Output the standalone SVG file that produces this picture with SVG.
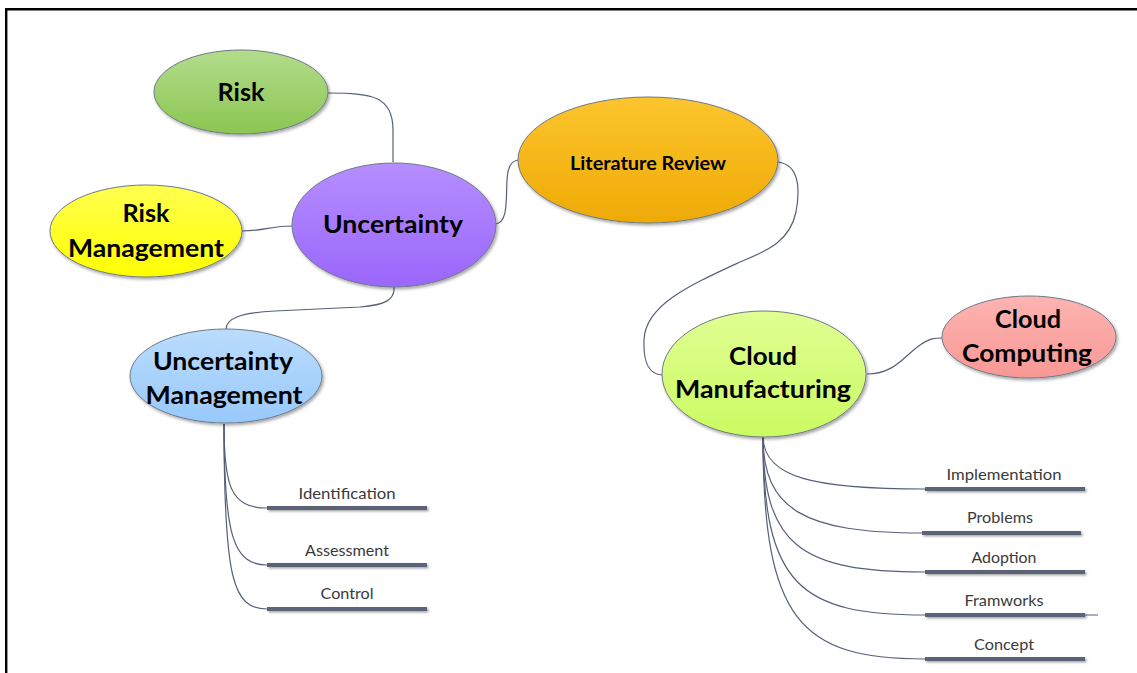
<svg xmlns="http://www.w3.org/2000/svg" width="1137" height="673" viewBox="0 0 1137 673">
<defs>
<style>
.node ellipse{stroke:#6d7a8a;stroke-width:1;filter:url(#sh)}
.lbl{font-family:Lato,"Liberation Sans",sans-serif;font-weight:bold;fill:#000;text-anchor:middle}
.leaf{font-family:Lato,"Liberation Sans",sans-serif;font-size:15px;fill:#3a3a3a;text-anchor:middle}
.conn path{fill:none;stroke:#566078;stroke-width:1.2}
.bar{fill:#5a6477;filter:url(#bsh)}
.frame{stroke:#000;stroke-width:2.4;fill:none}
</style>
<filter id="sh" x="-10%" y="-10%" width="125%" height="130%">
<feDropShadow dx="1.5" dy="2" stdDeviation="1.5" flood-color="#000" flood-opacity="0.35"/>
</filter>
<filter id="bsh" x="-5%" y="-100%" width="110%" height="400%">
<feDropShadow dx="1.5" dy="1.5" stdDeviation="0.8" flood-color="#000" flood-opacity="0.35"/>
</filter>
<linearGradient id="gRisk" x1="0" y1="0" x2="0" y2="1"><stop offset="0" stop-color="#b3dc8c"/><stop offset="1" stop-color="#8bc651"/></linearGradient>
<linearGradient id="gRM" x1="0" y1="0" x2="0" y2="1"><stop offset="0" stop-color="#ffff50"/><stop offset="1" stop-color="#ffff00"/></linearGradient>
<linearGradient id="gUnc" x1="0" y1="0" x2="0" y2="1"><stop offset="0" stop-color="#b58eff"/><stop offset="1" stop-color="#9a66fb"/></linearGradient>
<linearGradient id="gLit" x1="0" y1="0" x2="0" y2="1"><stop offset="0" stop-color="#fcc52f"/><stop offset="1" stop-color="#efaa04"/></linearGradient>
<linearGradient id="gCM" x1="0" y1="0" x2="0" y2="1"><stop offset="0" stop-color="#e0fe92"/><stop offset="1" stop-color="#cbfb62"/></linearGradient>
<linearGradient id="gCC" x1="0" y1="0" x2="0" y2="1"><stop offset="0" stop-color="#fdb4b1"/><stop offset="1" stop-color="#f89896"/></linearGradient>
<linearGradient id="gUM" x1="0" y1="0" x2="0" y2="1"><stop offset="0" stop-color="#bbdcfd"/><stop offset="1" stop-color="#98c9fb"/></linearGradient>
</defs>
<rect width="1137" height="673" fill="#fff"/>
<path class="frame" d="M5,9.2 H1137 M6.2,8 V673"/>

<g id="connectors" class="conn">
<path d="M328,93 C 372,93 393,96 393,130 L393,162"/>
<path d="M242,231 C 265,231 270,226 292,226"/>
<path d="M496,224 C 508,222 506,200 507,180 C 508,165 512,161 518,160"/>
<path d="M394,287 C 395,300 385,305 360,307 L 275,311 C 240,313 226,318 226,330"/>
<path d="M778,162 C 800,165 800,190 796,212 C 790,240 770,250 740,262 C 690,285 645,305 644,340 C 643,365 650,374 662,375"/>
<path d="M867,374 C 895,374 905,355 920,345 C 930,338 935,338 942,338"/>
<path d="M224,424 C 224,485 230,508 267,508"/>
<path d="M224,424 C 224,535 233,565 267,565"/>
<path d="M224,424 C 224,580 233,609 267,609"/>
<path d="M763,437 C 764,478 815,489 925,489"/>
<path d="M763,437 C 763,510 805,533 922,533"/>
<path d="M763,437 C 763,545 800,572 925,572"/>
<path d="M763,437 C 763,585 800,615 925,615 L1098,615"/>
<path d="M763,437 C 763,620 800,659 925,659"/>
</g>

<g id="risk" class="node"><ellipse cx="241" cy="92" rx="87" ry="42" fill="url(#gRisk)"/><text class="lbl" x="241" y="101" font-size="24" textLength="47" lengthAdjust="spacingAndGlyphs">Risk</text></g>
<g id="risk-management" class="node"><ellipse cx="146" cy="231" rx="96" ry="46" fill="url(#gRM)"/><text class="lbl" x="146" y="222" font-size="24" textLength="47" lengthAdjust="spacingAndGlyphs">Risk</text><text class="lbl" x="146" y="257" font-size="24" textLength="156" lengthAdjust="spacingAndGlyphs">Management</text></g>
<g id="uncertainty" class="node"><ellipse cx="394" cy="225" rx="102" ry="62" fill="url(#gUnc)"/><text class="lbl" x="393" y="233" font-size="25" textLength="140" lengthAdjust="spacingAndGlyphs">Uncertainty</text></g>
<g id="literature-review" class="node"><ellipse cx="648" cy="160" rx="130" ry="63" fill="url(#gLit)"/><text class="lbl" x="648" y="170" font-size="19" textLength="156" lengthAdjust="spacingAndGlyphs">Literature Review</text></g>
<g id="cloud-manufacturing" class="node"><ellipse cx="764" cy="374" rx="102" ry="63" fill="url(#gCM)"/><text class="lbl" x="763" y="365" font-size="24" textLength="68" lengthAdjust="spacingAndGlyphs">Cloud</text><text class="lbl" x="763" y="398" font-size="24" textLength="176" lengthAdjust="spacingAndGlyphs">Manufacturing</text></g>
<g id="cloud-computing" class="node"><ellipse cx="1029" cy="337" rx="87" ry="41" fill="url(#gCC)"/><text class="lbl" x="1028" y="328" font-size="24" textLength="66" lengthAdjust="spacingAndGlyphs">Cloud</text><text class="lbl" x="1027" y="362" font-size="24" textLength="130" lengthAdjust="spacingAndGlyphs">Computing</text></g>
<g id="uncertainty-management" class="node"><ellipse cx="226" cy="376" rx="96" ry="47" fill="url(#gUM)"/><text class="lbl" x="223" y="370" font-size="24" textLength="140" lengthAdjust="spacingAndGlyphs">Uncertainty</text><text class="lbl" x="224" y="404" font-size="24" textLength="157" lengthAdjust="spacingAndGlyphs">Management</text></g>

<g id="identification"><rect class="bar" x="267" y="506" width="160" height="4"/><text class="leaf" x="347" y="499" textLength="97" lengthAdjust="spacingAndGlyphs">Identification</text></g>
<g id="assessment"><rect class="bar" x="267" y="563" width="160" height="4"/><text class="leaf" x="347" y="556" textLength="84" lengthAdjust="spacingAndGlyphs">Assessment</text></g>
<g id="control"><rect class="bar" x="267" y="607" width="160" height="4"/><text class="leaf" x="347" y="599" textLength="53" lengthAdjust="spacingAndGlyphs">Control</text></g>
<g id="implementation"><rect class="bar" x="925" y="487" width="160" height="4"/><text class="leaf" x="1004" y="480" textLength="115" lengthAdjust="spacingAndGlyphs">Implementation</text></g>
<g id="problems"><rect class="bar" x="922" y="531" width="159" height="4"/><text class="leaf" x="1000" y="523" textLength="66" lengthAdjust="spacingAndGlyphs">Problems</text></g>
<g id="adoption"><rect class="bar" x="925" y="570" width="160" height="4"/><text class="leaf" x="1004" y="563" textLength="65" lengthAdjust="spacingAndGlyphs">Adoption</text></g>
<g id="framworks"><rect class="bar" x="925" y="613" width="160" height="4"/><text class="leaf" x="1004" y="606" textLength="79" lengthAdjust="spacingAndGlyphs">Framworks</text></g>
<g id="concept"><rect class="bar" x="925" y="657" width="160" height="4"/><text class="leaf" x="1004" y="650" textLength="60" lengthAdjust="spacingAndGlyphs">Concept</text></g>
</svg>
